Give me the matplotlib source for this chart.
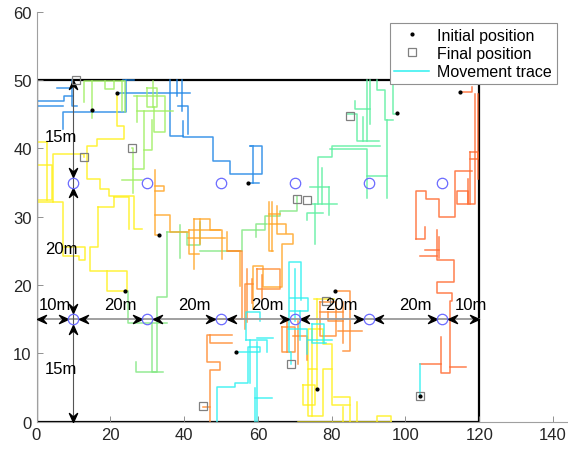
import matplotlib
matplotlib.use('Agg')
import matplotlib.pyplot as plt
from matplotlib.path import Path
from matplotlib.transforms import Affine2D

plt.rcParams['font.family'] = ['Liberation Sans', 'DejaVu Sans']

# ---- data ----
# area and access points
area_w, area_h = 120, 50
ap_x = [10, 30, 50, 70, 90, 110]
ap_y = [15, 35]

# initial / final positions
init_x = [15.0, 21.8, 57.3, 97.7, 114.8, 33.3, 24.0, 54.0, 80.9, 75.9, 103.9]
init_y = [45.6, 48.1, 35.0, 45.2, 48.2, 27.3, 19.2, 10.2, 19.1, 4.8, 3.8]
final_x = [10.7, 25.9, 13.0, 84.9, 70.6, 73.3, 45.1, 69.0, 78.5, 103.9]
final_y = [50.0, 40.1, 38.7, 44.8, 32.6, 32.5, 2.3, 8.4, 17.6, 3.8]

# movement traces (x, y vertices)
blue_traces = [
    [(57.3, 35), (60.3, 35)],
    [(58.8, 35), (58.8, 40.4), (57.9, 40.4), (61.1, 40.4), (61.1, 36.3), (52.4, 36.3),
     (52.4, 38.2), (47.9, 38.2), (47.9, 41.7), (39.6, 41.7), (39.6, 44)],
    [(36.2, 50), (36.2, 41.8), (39.6, 41.8)],
    [(38, 50), (38, 47.7)], [(39.4, 50), (39.4, 45.5)],
    [(38.3, 46.2), (41, 46.2), (41, 42.1)],
    [(21.8, 48.1), (41.6, 48.1)],
    [(23.4, 50), (26.3, 50)],
    [(24.2, 50), (24.2, 45.3), (7.1, 45.3), (7.1, 42.8)],
    [(0, 46.9), (7.4, 46.9), (7.4, 47.7), (9.6, 47.7)],
    [(0, 46.2), (7.1, 46.2)],
    [(9.6, 50), (9.6, 46.2), (11, 46.2)],
    [(5.6, 48.8), (9.6, 48.8)],
]
lgreen_traces = [
    [(12.8, 46.8), (12.8, 49.9), (23.6, 49.9)],
    [(15, 44.4), (15, 49.9)],
    [(18.6, 49.9), (18.6, 48.7), (20.9, 48.7), (20.9, 49.9)],
    [(23.2, 45.5), (23.2, 49.9)], [(24.1, 45.3), (24.1, 49.9)],
    [(30, 48.9), (30, 46), (32.7, 46), (32.7, 48.9), (30, 48.9)],
    [(31.5, 49.9), (31.5, 46)],
    [(26.5, 47.6), (34.9, 47.6), (34.9, 42.4), (31.8, 42.4), (31.8, 46)],
    [(27.2, 47.6), (27.2, 43.9)], [(27.2, 45.4), (37, 45.4)],
    [(29, 45.4), (29, 37), (26.1, 37)],
    [(31.3, 44.1), (31.3, 39.7), (29, 39.7)],
    [(25.9, 40.1), (26.1, 40.1), (26.1, 33.5)],
    [(23.1, 35.3), (28.5, 35.3)],
]
mgreen_traces = [
    [(24.2, 19.2), (24.9, 19.2), (24.9, 14.4), (35.3, 14.4)],
    [(35.3, 27.7), (35.3, 18.3), (32.6, 18.3), (32.6, 7.3), (27.1, 7.3), (27.1, 8.8)],
    [(31.2, 14.4), (31.2, 7.3), (34.4, 7.3)],
    [(35.3, 27.7), (40.7, 27.7), (40.7, 25.9), (44.3, 25.9), (44.3, 29.2)],
    [(44.3, 25), (55.6, 25), (55.6, 28), (61.9, 28), (61.9, 30.1), (66.1, 30.1),
     (66.1, 30.9), (70.6, 30.9), (70.6, 33.1)],
    [(38.9, 28.8), (38.9, 23.9)],
    [(59.5, 27), (59.5, 29), (62.5, 29)],
]
sgreen_traces = [
    [(97.6, 45.1), (96.7, 45.1), (96.7, 50)],
    [(92.2, 50), (92.2, 48.5), (94.5, 48.5), (94.5, 44.1), (96.7, 44.1)],
    [(94.9, 44.1), (94.9, 32.8)], [(89.5, 36), (94.9, 36)],
    [(89.5, 50), (89.5, 41.1)], [(90.4, 50), (90.4, 43.6)],
    [(93.1, 40.4), (80, 40.4), (80, 38.7), (76.4, 38.7), (76.4, 31.8)],
    [(79.6, 39.9), (89.5, 39.9), (89.5, 32.8)],
    [(77.3, 37.2), (77.3, 31.8)], [(74.6, 31.8), (81.4, 31.8)],
    [(79.2, 34.4), (79.2, 30.2)], [(74.1, 34.4), (79.2, 34.4)],
    [(84.1, 45.1), (86.9, 45.1), (86.9, 41.1), (92.7, 41.1)],
    [(86.4, 47), (86.4, 45.8), (90.4, 45.8)],
    [(88.6, 44.6), (88.6, 41.1)],
    [(73.3, 29.5), (73.3, 30.6), (77.6, 30.6)], [(75.5, 26), (75.5, 31.8)],
]
yellow_traces = [
    [(21.8, 48.1), (21.8, 43.3), (23.8, 43.3), (23.8, 41.4), (16.4, 41.4), (16.4, 40.4),
     (13.7, 40.4), (13.7, 35.5), (17.3, 35.5), (17.3, 34), (19.6, 34), (19.6, 33.1),
     (26.3, 33.1), (26.3, 28.2), (28.6, 28.2)],
    [(21.1, 32.9), (25, 32.9), (25, 28.2)],
    [(16.6, 31.4), (21.1, 31.4), (21.1, 32.9)],
    [(16.6, 31.4), (16.6, 25.5), (14.6, 25.5), (14.6, 22.1), (19.1, 22.1), (19.1, 19.2),
     (24.5, 19.2), (24.5, 22.1), (19.1, 22.1)],
    [(7.2, 25.5), (13.2, 25.5), (13.2, 23.6), (11.4, 23.6), (11.4, 24.3), (7.2, 24.3),
     (7.2, 32.1), (0, 32.1)],
    [(0, 37.5), (4.2, 37.5), (4.2, 32.4), (0, 32.4)],
    [(2.85, 40.9), (2.85, 32.4)], [(0, 40.9), (2.85, 40.9)],
    [(4.6, 32.1), (4.6, 39.2), (13, 39.2), (13, 38.7)],
    # bottom group
    [(75.9, 4.8), (75.9, 7.7), (73.7, 7.7), (73.7, 0.9), (77.7, 0.9), (77.7, 7.7), (80, 7.7)],
    [(72.3, 5.3), (75.5, 5.3), (75.5, 2.4), (72.3, 2.4), (72.3, 5.3)],
    [(73.7, 7.7), (73.7, 13.6), (77.7, 13.6), (77.7, 11.4), (80, 11.4), (80, 2.4), (85, 2.4)],
    [(74.6, 13.6), (74.6, 0.9)], [(75.1, 17.9), (80.5, 17.9)], [(76.1, 17.9), (76.1, 7.7)],
    [(80.5, 3.6), (85, 3.6), (85, 0)], [(83.2, 2.2), (83.2, 0)], [(86.8, 2.9), (86.8, 0)],
    [(71, 0), (96.2, 0)], [(92.2, 0), (92.2, 0.8), (96.2, 0.8), (96.2, 0)],
]
orange_traces = [
    [(33.3, 27.3), (32.1, 27.3), (32.1, 36.8)],
    [(32.1, 34.5), (34.6, 34.5), (34.6, 33.7), (32.1, 33.7)],
    [(32.1, 30.3), (36.3, 30.3), (36.3, 27.7), (41, 27.7)],
    [(41.2, 28.1), (49.8, 28.1)], [(42.6, 29.7), (42.6, 22.3)],
    [(42.6, 29.7), (47, 29.7), (47, 28), (50.2, 28), (50.2, 23.8)],
    [(41, 26.9), (51, 26.9)], [(41.2, 28.1), (41.2, 24.5), (44, 24.5)],
    [(44.3, 29.7), (44.3, 26)],
    [(51.5, 27.7), (51.5, 25), (55.2, 25), (55.2, 19.9)],
    [(58.6, 16.5), (58.6, 22.8), (61.3, 22.8), (61.3, 19.7), (66.5, 19.7), (66.5, 26),
     (69.6, 26), (69.6, 27.5), (65.1, 27.5), (65.1, 31.6)],
    [(62.9, 32.1), (62.9, 25), (64.2, 25)],
    [(62.9, 28.9), (67.6, 28.9), (67.6, 27.6)],
    [(62.9, 30.4), (66, 30.4)], [(63.8, 32.1), (63.8, 25)],
]
dorange_traces = [
    [(45.1, 2.2), (47.0, 2.2)],
    [(47.0, 0), (47.0, 7.6), (49.7, 7.6), (49.7, 8.8), (46.1, 8.8), (46.1, 12.7), (53.0, 12.7)],
    [(47.0, 12.7), (47.0, 11.5), (53.0, 11.5)],
    [(46.5, 15), (55.6, 15), (55.6, 22.4), (55.6, 25), (51.5, 25)],
    [(56.5, 13.6), (56.5, 20.1), (58.6, 20.1)], [(57, 22.4), (57, 14.6)],
    [(59.7, 22.4), (66, 22.4), (66, 19.4), (59.7, 19.4), (59.7, 22.4)],
    [(58.3, 20.9), (58.3, 17.3)], [(61, 21.4), (61, 18)],
    [(66.5, 13.9), (70.1, 13.9), (70.1, 10.2), (66.5, 10.2), (66.5, 13.9)],
    [(67.8, 14.8), (67.8, 10.2)],
    [(69.6, 12.6), (73.2, 12.6), (73.2, 9)], [(70.9, 14.8), (70.9, 8.5)],
    [(80.9, 19.1), (85, 19.1), (85, 10.4), (83.2, 10.4)],
    [(81.8, 13.3), (88.2, 13.3)],
    [(76.8, 17.5), (81.3, 17.5), (81.3, 12.6), (76.8, 12.6), (76.8, 17.5)],
    [(83.2, 17.5), (83.2, 11.5)], [(76.8, 16), (83.2, 16)],
    [(79.1, 16), (79.1, 14.8), (83.2, 14.8)],
]
red_traces = [
    [(103.9, 8.4), (109.5, 8.4)],
    [(109.5, 12.4), (109.5, 7.2), (112.2, 7.2), (112.2, 17.7), (112.7, 17.7), (112.7, 18.9),
     (108.6, 18.9), (108.6, 20.4), (113.1, 20.4), (113.1, 23.6), (108.6, 23.6), (108.6, 28)],
    [(112.2, 8), (116.3, 8)],
    [(102.8, 26.8), (102.8, 33.8), (105.7, 33.8), (105.7, 32.6), (109.1, 32.6), (109.1, 29.9),
     (113.4, 29.9), (113.4, 36.7), (117.9, 36.7)],
    [(102.8, 26.8), (105.3, 26.8), (105.3, 28.5)],
    [(105.3, 25.1), (109.1, 25.1)], [(104, 24.3), (108.6, 24.3)],
    [(109.1, 27), (109.1, 24)],
    [(114.8, 48.2), (117.9, 48.2), (117.9, 49)],
    [(118.8, 47.9), (118.8, 31.9), (114, 31.9), (114, 33.8), (117, 33.8), (117, 31.9)],
    [(117.4, 39.4), (117.4, 31.9)],
    [(117.4, 39.4), (119.7, 39.4), (119.7, 38.4), (117.4, 38.4)],
    [(119.7, 47.9), (119.7, 35.5)], [(117, 35.5), (117, 32)],
]
cyan_traces = [
    [(103.9, 3.8), (103.9, 8.4)],
    [(54, 10.2), (60.6, 10.2), (60.6, 11), (57.4, 11), (57.4, 5.6), (53.8, 5.6), (53.8, 5.1),
     (49, 5.1), (49, 0)],
    [(59.7, 11.7), (59.7, 0)], [(59.2, 3.5), (63.7, 3.5)], [(59.2, 5), (59.2, 0)],
    [(56.8, 12), (56.8, 16), (60.6, 16), (60.6, 14.8)],
    [(56.8, 12), (62.4, 12), (62.4, 10.2)], [(59.7, 12.2), (64, 12.2)],
    [(57.8, 12), (57.8, 5.6)],
    [(69, 8.4), (69, 10.2), (68.4, 10.2), (68.4, 23.4), (71.6, 23.4), (71.6, 17.8)],
    [(68.7, 18.1), (73.7, 18.1), (73.7, 16.2), (68.7, 16.2)],
    [(70.1, 22.4), (70.1, 14.8)], [(71.4, 16.2), (71.4, 12)],
    [(68.2, 13.5), (73.2, 13.5), (73.2, 9.9)], [(73.7, 12), (80, 12)],
    [(74.8, 14.3), (77.9, 14.3), (77.9, 11.5)],
    [(74.8, 14.3), (74.8, 11.5), (78.5, 11.5)],
]

# dimension labels
h_labels = ['10m', '20m', '20m', '20m', '20m', '20m', '10m']
h_label_x = [5, 22.6, 42.7, 62.5, 82.5, 102.8, 117.8]
v_labels = ['15m', '20m', '15m']
v_label_y = [41.7, 25.4, 7.8]

trace_sets = [
    (blue_traces, '#1f86e6'),
    (lgreen_traces, '#9fef62'),
    (mgreen_traces, '#82e882'),
    (sgreen_traces, '#5cefa0'),
    (yellow_traces, '#fff01a'),
    (orange_traces, '#ffa526'),
    (dorange_traces, '#ff8a2e'),
    (red_traces, '#ff6a30'),
    (cyan_traces, '#2ef0f0'),
]

fig = plt.figure(figsize=(5.68, 4.52), dpi=100)
ax = fig.add_axes([36.5 / 568, 29.3 / 452, 535 / 568, 410 / 452])

# area border
ax.plot([0, area_w, area_w, 0, 0], [0, 0, area_h, area_h, 0], color='k', lw=1.6, zorder=1)

# traces
for traces, col in trace_sets:
    for tr in traces:
        xs = [p[0] for p in tr]
        ys = [p[1] for p in tr]
        ax.plot(xs, ys, color=col, lw=1.1, alpha=0.85, zorder=2)

# dimension lines
ax.plot([0, area_w], [15, 15], color='#999999', lw=1.3, zorder=3)
ax.plot([10, 10], [0, area_h], color='#555555', lw=0.8, zorder=3)

# arrow heads (notched, matlab style)
head = Path([(0, 0), (-1, 0.45), (-0.6, 0), (-1, -0.45), (0, 0)],
            [Path.MOVETO, Path.LINETO, Path.LINETO, Path.LINETO, Path.CLOSEPOLY])
r_x, r_y = 1.5, 0.85
hx_right = [ap - r_x for ap in ap_x] + [area_w]
hx_left = [0] + [ap + r_x for ap in ap_x]
vy_up = [area_h, 35 - r_y, 15 - r_y]
vy_down = [35 + r_y, 15 + r_y, 0]

ax.plot(hx_right, [15] * len(hx_right), ls='none', marker=head, ms=13, color='k', zorder=5)
ax.plot(hx_left, [15] * len(hx_left), ls='none',
        marker=head.transformed(Affine2D().rotate_deg(180)), ms=13, color='k', zorder=5)
ax.plot([10] * 3, vy_up, ls='none',
        marker=head.transformed(Affine2D().rotate_deg(90)), ms=13, color='k', zorder=5)
ax.plot([10] * 3, vy_down, ls='none',
        marker=head.transformed(Affine2D().rotate_deg(-90)), ms=13, color='k', zorder=5)

# access points
for yy in ap_y:
    ax.plot(ap_x, [yy] * len(ap_x), ls='none', marker='o', ms=7.5, mfc='none',
            mec='#6b6bff', mew=0.9, zorder=6)

# positions
ax.plot(init_x, init_y, ls='none', marker='.', ms=4, color='k', zorder=7,
        label='Initial position')
ax.plot(final_x, final_y, ls='none', marker='s', ms=5.5, mfc='none', mec='#808080',
        mew=0.9, zorder=7, label='Final position')
ax.plot([], [], color='#2ef0f0', lw=1.1, label='Movement trace')

# labels
for t, xx in zip(h_labels, h_label_x):
    ax.text(xx, 17.2, t, ha='center', va='center', fontsize=12, zorder=8)
for t, yy in zip(v_labels, v_label_y):
    ax.text(6.7, yy, t, ha='center', va='center', fontsize=12, zorder=8)

ax.set_xlim(0, 145)
ax.set_ylim(0, 60)
ax.set_xticks(range(0, 141, 20))
ax.set_yticks(range(0, 61, 10))
for s in ['top', 'right']:
    ax.spines[s].set_visible(False)
for s in ['left', 'bottom']:
    ax.spines[s].set_color('#a0a0a0')
    ax.spines[s].set_linewidth(0.8)
ax.tick_params(direction='in', length=4, width=0.6, color='#808080',
               labelsize=12, labelcolor='#262626')

leg = ax.legend(loc='upper right', bbox_to_anchor=(557 / 568, 1 - 24 / 452),
                bbox_transform=fig.transFigure, borderaxespad=0, fontsize=11.5,
                fancybox=False, edgecolor='#909090', framealpha=1,
                handlelength=2.2, labelspacing=0.2, borderpad=0.3, handletextpad=0.5)
leg.get_frame().set_linewidth(0.8)

fig.savefig('out.png', dpi=100)
